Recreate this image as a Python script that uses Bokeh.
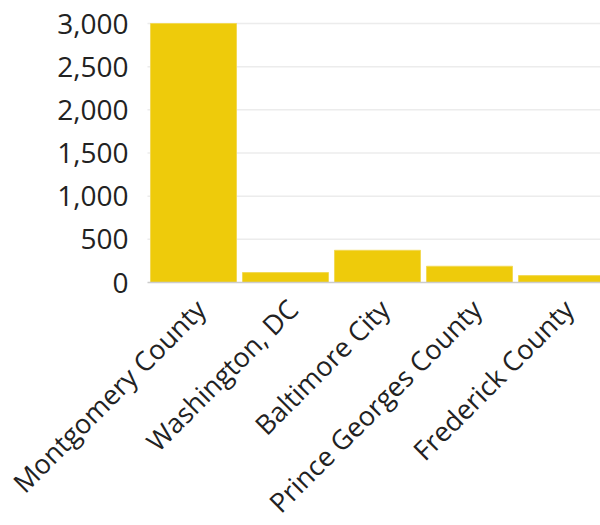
from bokeh.plotting import figure
from bokeh.models import Range1d, LabelSet, ColumnDataSource
from bokeh.core.properties import value
from bokeh.embed import file_html
from bokeh.resources import INLINE
import math

categories = ["Montgomery County", "Washington, DC", "Baltimore City",
              "Prince Georges County", "Frederick County"]
values = [3000, 115, 373, 188, 80]
y_ticks = [0, 500, 1000, 1500, 2000, 2500, 3000]
y_tick_labels = ["{:,}".format(t) for t in y_ticks]

n = len(categories)
idx = list(range(n))

# Layout (pixels). The whole canvas is the frame, so that the rotated
# category labels and the value labels are not clipped.
W, H = 600, 525
PLOT_LEFT, PLOT_TOP, PLOT_BOTTOM = 147, 23, 282
band_px = 92
y_max_tick = y_ticks[-1]
upp = y_max_tick / (PLOT_BOTTOM - PLOT_TOP)        # data units per pixel
x_start = -0.5 - PLOT_LEFT / band_px
x_end = (W - PLOT_LEFT) / band_px - 0.5
y_end = y_max_tick + PLOT_TOP * upp
y_start = -(H - PLOT_BOTTOM) * upp

cat_src = ColumnDataSource(data=dict(x=idx, cat=categories, val=values,
                                     base=[0] * n))
tick_src = ColumnDataSource(data=dict(y=y_ticks, lab=y_tick_labels,
                                      x=[-0.5] * len(y_ticks)))

p = figure(x_range=Range1d(x_start, x_end), y_range=Range1d(y_start, y_end),
           width=W, height=H, output_backend="svg", toolbar_location=None,
           min_border=0)
p.xaxis.visible = False
p.yaxis.visible = False
p.grid.visible = False
p.outline_line_color = None

# grid lines
grid_src = ColumnDataSource(data=dict(y=y_ticks[1:], x0=[-0.5] * (len(y_ticks) - 1),
                                      x1=[x_end] * (len(y_ticks) - 1)))
p.segment(x0="x0", x1="x1", y0="y", y1="y", source=grid_src,
          line_color="#ececec", line_width=1.5)

# bars
p.vbar(x="x", top="val", width=0.935, source=cat_src, fill_color="#EECB0B",
       line_color="#f2d955", line_width=1)

# baseline
p.segment(x0=[-0.5], x1=[x_end], y0=[0], y1=[0], line_color="#cccccc",
          line_width=1.5)

# y tick labels
p.add_layout(LabelSet(x="x", y="y", text="lab", source=tick_src,
                      text_align="right", text_baseline="middle", x_offset=-19,
                      text_font=value("Open Sans"), text_font_size="28px",
                      text_color="#222222"))

# category labels
p.add_layout(LabelSet(x="x", y="base", text="cat", source=cat_src,
                      angle=math.pi / 4, text_align="right", text_baseline="middle",
                      x_offset=7, y_offset=-21.5,
                      text_font=value("Open Sans"), text_font_size="27px",
                      text_color="#222222"))

open("out.html", "w").write(file_html(p, INLINE))
